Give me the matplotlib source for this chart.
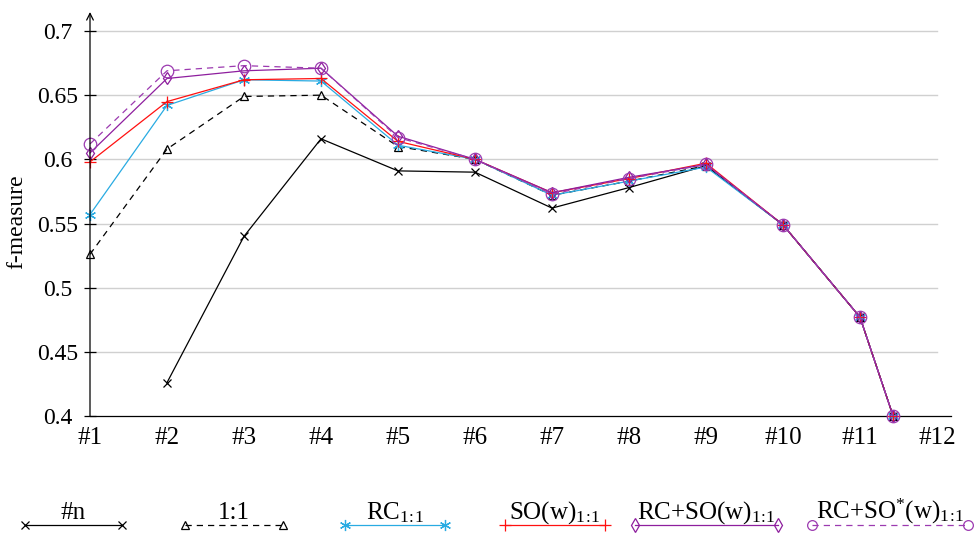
import numpy as np
import matplotlib
matplotlib.use("Agg")
import matplotlib.pyplot as plt
from matplotlib.lines import Line2D

plt.rcParams['font.family'] = ['Liberation Serif', 'DejaVu Serif']
plt.rcParams['mathtext.fontset'] = 'custom'
plt.rcParams['mathtext.rm'] = 'Liberation Serif'
plt.rcParams['mathtext.it'] = 'Liberation Serif:italic'

# ---- data ----
tick_labels = ['#1', '#2', '#3', '#4', '#5', '#6', '#7', '#8', '#9', '#10', '#11', '#12']
x_pos = [1, 2, 3, 4, 5, 6, 7, 8, 9, 10, 11, 11.43]   # last point clipped at y=0.4

n_vals     = [np.nan, 0.426, 0.540, 0.616, 0.591, 0.590, 0.562, 0.578, 0.595, 0.549, 0.477, 0.400]
one_vals   = [0.526, 0.608, 0.649, 0.650, 0.610, 0.600, 0.572, 0.583, 0.595, 0.549, 0.477, 0.400]
rc_vals    = [0.557, 0.642, 0.662, 0.661, 0.611, 0.600, 0.572, 0.583, 0.594, 0.549, 0.477, 0.400]
so_vals    = [0.598, 0.645, 0.662, 0.663, 0.614, 0.600, 0.574, 0.585, 0.597, 0.549, 0.477, 0.400]
rcso_vals  = [0.605, 0.663, 0.669, 0.671, 0.618, 0.600, 0.574, 0.586, 0.596, 0.549, 0.477, 0.400]
rcsos_vals = [0.612, 0.669, 0.673, 0.671, 0.617, 0.600, 0.573, 0.585, 0.596, 0.549, 0.477, 0.400]

sub = r'$_{1\!:\!1}$'
labels = ['#n', '1:1', 'RC' + sub, 'SO(w)' + sub, 'RC+SO(w)' + sub, r'RC+SO$^{*}$(w)' + sub]
series = [n_vals, one_vals, rc_vals, so_vals, rcso_vals, rcsos_vals]

purple = '#8E1E9E'
styles = [
    dict(color='black', ls='-', marker='x', ms=6, mfc='none'),
    dict(color='black', ls=(0, (5, 4)), marker='^', ms=6, mfc='none'),
    dict(color='#29ABE2', ls='-', marker=(6, 2, 0), ms=8, mfc='none'),
    dict(color='#FF1010', ls='-', marker='+', ms=9, mfc='none'),
    dict(color=purple, ls='-', marker='d', ms=6, mfc='none'),
    dict(color='#9C3AB0', ls=(0, (5, 4)), marker='o', ms=9, mfc='none'),
]
leg_ms = [6, 6, 8, 9, 7, 7]

fig = plt.figure(figsize=(9.75, 5.33), dpi=100)
ax = fig.add_axes([90/975, 1-416/533, (951-90)/975, (416-12)/533])

xmax = 12 + 14/77
ymax = 0.7 + 19/1283
ax.set_xlim(1, xmax)
ax.set_ylim(0.4, ymax)

# grid lines (only up to #12)
for yv in [0.45, 0.5, 0.55, 0.6, 0.65, 0.7]:
    ax.plot([1, 12], [yv, yv], color='#d0d0d0', lw=1.0, zorder=0)

for vals, st in zip(series, styles):
    ax.plot(x_pos, vals, lw=0.9, mew=0.9, clip_on=False, zorder=3, **st)

ax.set_xticks(range(1, 13))
ax.set_xticklabels(tick_labels)
ax.set_yticks([0.4, 0.45, 0.5, 0.55, 0.6, 0.65, 0.7])
ax.set_yticklabels(['0.4', '0.45', '0.5', '0.55', '0.6', '0.65', '0.7'], ha='center')
ax.tick_params(axis='x', length=0, labelsize=18, pad=8)
ax.tick_params(axis='y', direction='inout', length=9, width=0.9, labelsize=17, pad=19)

for s in ['top', 'right']:
    ax.spines[s].set_visible(False)
ax.spines['left'].set_visible(False)
ax.spines['bottom'].set_linewidth(0.9)
# y axis with arrow
ax.annotate('', xy=(0, 1.0), xycoords='axes fraction', xytext=(0, 0), textcoords='axes fraction',
            arrowprops=dict(arrowstyle='->', lw=0.9, color='black', shrinkA=0, shrinkB=0,
                            mutation_scale=12))

ax.set_ylabel('f-measure', fontsize=17)
ax.yaxis.set_label_coords(-0.073, 0.48)

# custom legend below
leg_spans = [(25, 122), (185, 283), (345, 445), (505, 605), (635, 778), (812, 968)]
ly = 1 - 525/533
ty = 1 - 519/533
for (x0, x1), lab, st, ms in zip(leg_spans, labels, styles, leg_ms):
    fx0, fx1 = x0/975, x1/975
    st2 = dict(st)
    st2['ms'] = ms
    fig.add_artist(Line2D([fx0, fx1], [ly, ly], transform=fig.transFigure, lw=0.9, mew=0.9, **st2))
    fig.text((fx0+fx1)/2, ty, lab, ha='center', va='baseline', fontsize=18)

fig.savefig('out.png', dpi=100)
